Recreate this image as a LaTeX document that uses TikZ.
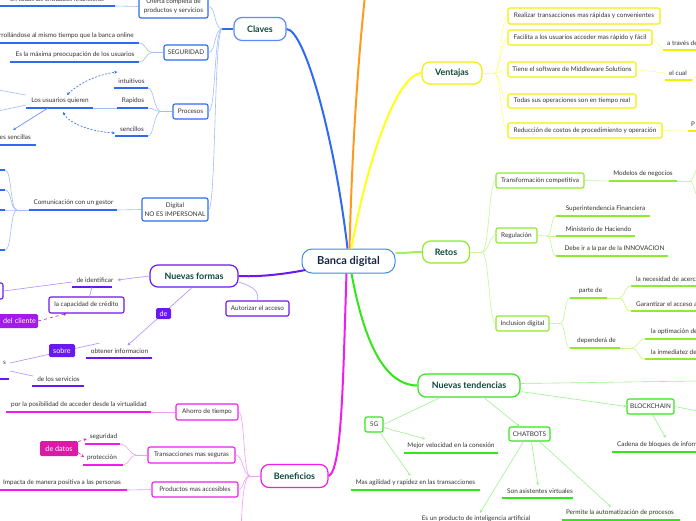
\documentclass[tikz,border=0pt]{standalone}
\usepackage{fontspec}
\setmainfont{Lato}
\usetikzlibrary{arrows.meta,calc}
\definecolor{txtc}{HTML}{333333}
\definecolor{tgreen}{HTML}{0D4A3A}
\definecolor{navy}{HTML}{16264A}
\definecolor{centralc}{HTML}{3F8CD8}
\definecolor{bluem}{HTML}{2F6BF2}
\definecolor{claveb}{HTML}{5B8CF7}
\definecolor{blueb}{HTML}{2F6BF2}
\definecolor{bluelt}{HTML}{A3BDF9}
\definecolor{orangec}{HTML}{FF9A1F}
\definecolor{yelm}{HTML}{FFFF1A}
\definecolor{yelb}{HTML}{F2EF00}
\definecolor{yellt}{HTML}{FFFF8C}
\definecolor{retg}{HTML}{8EEB2E}
\definecolor{retlt}{HTML}{C6F59B}
\definecolor{ntg}{HTML}{33E619}
\definecolor{ntlt}{HTML}{9EF28F}
\definecolor{purp}{HTML}{6A18F0}
\definecolor{purlt}{HTML}{B38FF8}
\definecolor{purp2}{HTML}{A11CEB}
\definecolor{mag}{HTML}{EE1EEE}
\definecolor{maglt}{HTML}{F59CF5}
\definecolor{magd}{HTML}{DD1AA5}
\tikzset{
  every node/.style={font=\fontsize{6.4}{9}\selectfont, text=txtc},
  txt/.style={inner sep=0pt},
  topic/.style={draw, line width=1.2pt, rounded corners=8pt, fill=white, font=\fontsize{8.9}{10}\selectfont\bfseries, text=tgreen, inner sep=0pt},
  sbox/.style={draw, line width=1.1pt, rounded corners=2pt, fill=white, inner sep=0pt, align=center},
  lbl/.style={fill, rounded corners=1.5pt, text=white, font=\fontsize{7.2}{8}\selectfont, inner sep=0pt},
  ul/.style={line width=1.8pt},
  conn/.style={line width=0.6pt},
  trunk/.style={line width=2pt},
  arr/.style={-{Stealth[length=3pt,width=3pt]}},
}
\newcommand\ulnode[8]{%
  \coordinate (#1-w) at (#3,#5);
  \coordinate (#1-e) at (#4,#5);
  \draw[ul,#2] (#1-w) -- (#1-e);
  \node[txt,#6] (#1) at (#7,#5-7) {#8};
}
\begin{document}
\begin{tikzpicture}[x=1pt,y=-1pt]
\fill[white] (0,0) rectangle (696,520);
\useasboundingbox (0,0) rectangle (696,520);

% ---------- central and topics ----------
\node[draw=centralc, line width=1pt, rounded corners=10pt, fill=white, minimum width=93pt, minimum height=24pt, font=\fontsize{11}{12}\selectfont\bfseries, text=navy, inner sep=0pt] (c) at (348.5,261) {Banca digital};
\node[topic, draw=claveb, minimum width=52pt, minimum height=23pt] (claves) at (260,29) {Claves};
\node[topic, draw=yelb, minimum width=60pt, minimum height=22pt] (vent) at (452,73) {Ventajas};
\node[topic, draw=retg, minimum width=47pt, minimum height=22pt] (retos) at (446,252) {Retos};
\node[topic, draw=purp, minimum width=88pt, minimum height=22pt] (nf) at (194,276) {Nuevas formas};
\node[topic, draw=mag, minimum width=67pt, minimum height=23pt] (ben) at (294.5,476) {Beneficios};
\node[topic, draw=ntg, minimum width=102pt, minimum height=23pt] (nt) at (469,385.5) {Nuevas tendencias};

\coordinate (oe) at (365,-4);
\draw[trunk,orangec] ([xshift=1pt]c.north) .. controls (352,150) and (358,60) .. (oe);
\draw[trunk,bluem] ([xshift=-1pt]c.north) .. controls (335,140) and (305,30) .. (claves.east);
\draw[trunk,yelm] ([xshift=3pt]c.north) .. controls (365,170) and (395,75) .. (vent.west);
\draw[trunk,retg!80!white] ([yshift=8pt]c.east) .. controls (410,253) and (410,252) .. (retos.west);
\draw[trunk,purp] ([xshift=4pt,yshift=-9pt]c.west) .. controls (280,275) and (255,277) .. (nf.east);
\draw[trunk,mag] ([xshift=-2pt]c.south) .. controls (343,380) and (342,470) .. (ben.east);
\draw[trunk,ntg] ([xshift=3pt]c.south) .. controls (362,330) and (380,385) .. (nt.west);

% ---------- Claves ----------
\node[sbox, draw=blueb, minimum width=69pt, minimum height=23pt] (oferta) at (173.5,6.5) {Oferta completa de\\productos y servicios};
\node[sbox, draw=blueb, minimum width=44pt, minimum height=15pt] (seg) at (186,52.5) {SEGURIDAD};
\node[sbox, draw=blueb, minimum width=35pt, minimum height=15pt] (proc) at (190.5,111.5) {Procesos};
\node[sbox, draw=blueb, minimum width=66pt, minimum height=23pt] (digi) at (175,209.5) {Digital\\NO ES IMPERSONAL};
\coordinate (cj) at (222,29);
\draw[line width=1.4pt,blueb] (claves.west) -- (cj);
\draw[conn,bluelt] (cj) .. controls (214,29) and (216,6.5) .. (oferta.east);
\draw[conn,bluelt] (cj) .. controls (214,29) and (216,52.5) .. (seg.east);
\draw[conn,bluelt] (cj) .. controls (214,29) and (216,111.5) .. (proc.east);
\draw[conn,bluelt] (cj) .. controls (214,29) and (216,209.5) .. (digi.east);

\ulnode{ofc}{blueb}{-5}{115}{6}{}{57}{en todas las entidades financieras}
\draw[conn,bluelt] (oferta.west) -- (ofc-e);

\ulnode{s1}{blueb}{-5}{139}{43}{anchor=east}{134}{Desarrollándose al mismo tiempo que la banca online}
\ulnode{s2}{blueb}{10}{139}{62}{}{75}{Es la máxima preocupación de los usuarios}
\coordinate (sj) at (152,52.5);
\draw[conn,bluelt] (seg.west) -- (sj);
\draw[conn,bluelt] (sj) .. controls (146,52.5) and (146,43) .. (s1-e);
\draw[conn,bluelt] (sj) .. controls (146,52.5) and (146,62) .. (s2-e);

\ulnode{p1}{blueb}{114}{148}{88}{}{131.5}{intuitivos}
\ulnode{p2}{blueb}{117}{148}{108}{}{133}{Rapidos}
\ulnode{p3}{blueb}{115}{148}{136}{}{132}{sencillos}
\coordinate (pj) at (161,111.5);
\draw[conn,bluelt] (proc.west) -- (pj);
\draw[conn,bluelt] (pj) .. controls (154,111.5) and (154,88) .. (p1-e);
\draw[conn,bluelt] (pj) .. controls (154,111.5) and (154,108) .. (p2-e);
\draw[conn,bluelt] (pj) .. controls (154,111.5) and (154,136) .. (p3-e);

\ulnode{luq}{blueb}{26}{93}{108}{}{60}{Los usuarios quieren}
\draw[conn,bluelt] (p2-w) -- (luq-e);
\coordinate (lq1) at (-2,90);
\coordinate (lq2) at (-2,111);
\draw[conn,bluelt] ([xshift=-5pt,yshift=6pt]luq.west) -- (lq1);
\draw[conn,bluelt] ([xshift=-5pt,yshift=-4pt]luq.west) -- (lq2);
\ulnode{ls}{blueb}{-5}{36}{145}{anchor=east}{31}{Operaciones sencillas}
\coordinate (lsarr) at (13,130);
\draw[conn,bluem!80!white,arr] ([xshift=22pt]luq-w) -- (lsarr);
\draw[conn,bluem,dashed,dash pattern=on 2pt off 1.5pt,{Stealth[length=3pt,width=3pt]}-{Stealth[length=3pt,width=3pt]}]
  ([xshift=7pt,yshift=3pt]luq.north) .. controls (80,82) and (100,74) .. ([xshift=-1pt,yshift=9pt]p1.west);
\draw[conn,bluem,dashed,dash pattern=on 2pt off 1.5pt,{Stealth[length=3pt,width=3pt]}-{Stealth[length=3pt,width=3pt]}]
  ([xshift=3pt,yshift=-8pt]luq.south) .. controls (70,125) and (95,132) .. ([xshift=-5pt,yshift=-4pt]p3.west);

\ulnode{com}{blueb}{29}{117}{210}{}{73.5}{Comunicación con un gestor}
\draw[conn,bluelt] (digi.west) -- (com-e);
\coordinate (comj) at (17,210);
\draw[conn,bluelt] (com-w) -- (comj);
\foreach \yy/\nm in {170/d1,190/d2,210/d3,250/d4}{
  \coordinate (\nm) at (5,\yy);
  \draw[ul,blueb] (-5,\yy) -- (\nm);
  \draw[conn,bluelt] (comj) .. controls (10,210) and (12,\yy) .. (\nm);
}

% ---------- Ventajas ----------
\node[sbox, draw=yelb, minimum width=152pt, minimum height=16pt] (v1) at (584,16) {Realizar transacciones mas rápidas y convenientes};
\node[sbox, draw=yelb, minimum width=144pt, minimum height=15pt] (v2) at (580,37.5) {Facilita a los usuarios acceder mas rápido y fácil};
\node[sbox, draw=yelb, minimum width=128pt, minimum height=15pt] (v3) at (572,69.5) {Tiene el software de Middleware Solutions};
\node[sbox, draw=yelb, minimum width=128pt, minimum height=14pt] (v4) at (572,101) {Todas sus operaciones son en tiempo real};
\node[sbox, draw=yelb, minimum width=154pt, minimum height=15pt] (v5) at (585,130.5) {Reducción de costos de procedimiento y operación};
\coordinate (vj) at (494,73);
\draw[conn,yellt] (vent.east) -- (vj);
\foreach \n in {v1,v2,v3,v4,v5}{
  \draw[conn,yellt] (vj) .. controls (501,73) and (501,0|-\n.west) .. (\n.west);
}
\ulnode{atr}{yelb}{663}{700}{50}{anchor=west}{667}{a través de}
\draw[conn,yellt] (v2.east) -- (atr-w);
\ulnode{ec}{yelb}{665}{692}{80}{}{678}{el cual}
\draw[conn,yellt] (v3.east) -- ([xshift=-4pt]ec.west);
\coordinate (ecr) at (698,74);
\draw[conn,yellt] (ec-e) .. controls (695,80) and (695,75) .. (ecr);
\ulnode{pp}{yelb}{688}{700}{131}{anchor=west}{691}{P}
\draw[conn,yellt] (v5.east) -- (pp-w);

% ---------- Retos ----------
\node[sbox, draw=retg, minimum width=88pt, minimum height=15pt] (r1) at (540,180.5) {Transformación competitiva};
\node[sbox, draw=retg, minimum width=41pt, minimum height=15pt] (r2) at (516.5,235.5) {Regulación};
\node[sbox, draw=retg, minimum width=53pt, minimum height=15pt] (r3) at (522.5,323.5) {Inclusion digital};
\coordinate (rj) at (482,252);
\draw[conn,retlt] (retos.east) -- (rj);
\foreach \n in {r1,r2,r3}{
  \draw[conn,retlt] (rj) .. controls (489,252) and (489,0|-\n.west) .. (\n.west);
}
\ulnode{mod}{retg}{609}{677}{181}{}{643}{Modelos de negocios}
\draw[conn,retlt] (r1.east) -- (mod-w);
\coordinate (modj) at (690,181);
\coordinate (m1) at (698,168);
\coordinate (m2) at (698,196);
\draw[conn,retlt] (mod-e) -- (modj);
\draw[conn,retlt] (modj) .. controls (694,181) and (694,170) .. (m1);
\draw[conn,retlt] (modj) .. controls (694,181) and (694,194) .. (m2);

\ulnode{sf}{retg}{556}{650}{216}{}{605.5}{Superintendencia Financiera}
\ulnode{mh}{retg}{556}{635}{236}{}{598.5}{Ministerio de Haciendo}
\ulnode{inn}{retg}{556}{668}{256}{}{614.5}{Debe ir a la par de la INNOVACION}
\coordinate (r2j) at (547,236);
\draw[conn,retlt] (r2.east) -- (r2j);
\draw[conn,retlt] (r2j) .. controls (552,236) and (551,216) .. (sf-w);
\draw[conn,retlt] (r2j) -- (mh-w);
\draw[conn,retlt] (r2j) .. controls (552,236) and (551,256) .. (inn-w);

\ulnode{pd}{retg}{570}{607}{298}{}{590.5}{parte de}
\ulnode{dd}{retg}{570}{620}{348}{}{596.5}{dependerá de}
\coordinate (r3j) at (560,323.5);
\draw[conn,retlt] (r3.east) -- (r3j);
\draw[conn,retlt] (r3j) .. controls (566,323.5) and (564,298) .. (pd-w);
\draw[conn,retlt] (r3j) .. controls (566,323.5) and (564,348) .. (dd-w);
\ulnode{nec}{retg}{631}{700}{286}{anchor=west}{636}{la necesidad de acercar}
\ulnode{gar}{retg}{631}{700}{311}{anchor=west}{636}{Garantizar el acceso a}
\coordinate (pdj) at (619,298);
\draw[conn,retlt] (pd-e) -- (pdj);
\draw[conn,retlt] (pdj) .. controls (625,298) and (624,286) .. (nec-w);
\draw[conn,retlt] (pdj) .. controls (625,298) and (624,311) .. (gar-w);
\ulnode{opt}{retg}{645}{700}{339}{anchor=west}{651}{la optimación de}
\ulnode{inm}{retg}{645}{700}{359}{anchor=west}{651}{la inmediatez de}
\coordinate (ddj) at (632,348);
\draw[conn,retlt] (dd-e) -- (ddj);
\draw[conn,retlt] (ddj) .. controls (638,348) and (638,339) .. (opt-w);
\draw[conn,retlt] (ddj) .. controls (638,348) and (638,359) .. (inm-w);

% ---------- Nuevas tendencias ----------
\coordinate (ntr) at (698,381);
\draw[conn,ntlt] ([yshift=2pt]nt.east) -- (ntr);
\node[sbox, draw=ntg, minimum width=47pt, minimum height=15pt] (bc) at (650.5,406.5) {BLOCKCHAIN};
\draw[conn,ntlt,arr] ([yshift=-6pt]nt.east) -- (bc.west);
\coordinate (bcr) at (698,411);
\draw[conn,ntlt] (bc.east) -- (bcr);
\ulnode{cad}{ntg}{612}{700}{452}{anchor=west}{617}{Cadena de bloques de información}
\draw[conn,ntlt,arr] ([xshift=2pt]bc.south) -- ([yshift=4pt]cad.north);

\node[sbox, draw=ntg, minimum width=18pt, minimum height=15pt] (g5) at (374,424.5) {5G};
\draw[conn,ntlt] ([xshift=-29pt]nt.south) -- (g5.east);
\ulnode{mv}{ntg}{404}{498}{453}{}{451}{Mejor velocidad en la conexión}
\draw[conn,ntlt,arr] ([yshift=-3pt]g5.east) -- ([xshift=-26pt,yshift=4pt]mv.north);
\ulnode{ma}{ntg}{351}{480}{490}{}{415.5}{Mas agilidad y rapidez en las transacciones}
\draw[conn,ntlt,arr] ([xshift=6pt]g5.south) -- ([xshift=-5pt,yshift=4pt]ma.north);

\node[sbox, draw=ntg, minimum width=41pt, minimum height=14pt] (cb) at (529.5,434) {CHATBOTS};
\draw[conn,ntlt,arr] ([xshift=15pt]nt.south) -- ([xshift=-10pt]cb.north);
\ulnode{sa}{ntg}{502}{573}{498}{}{540}{Son asistentes virtuales}
\draw[conn,ntlt,arr] ([xshift=2pt]cb.south) -- ([xshift=-2pt,yshift=3pt]sa.north);
\ulnode{pa}{ntg}{562}{680}{520}{}{620}{Permite la automatización de procesos}
\draw[conn,ntlt,arr] ([xshift=10pt]cb.south) -- ([xshift=-9pt,yshift=3pt]pa.north);
\ulnode{ep}{ntg}{420}{535}{526}{}{476}{Es un producto de inteligencia artificial}
\draw[conn,ntlt,arr] ([xshift=-6pt]cb.south) -- ([xshift=4pt,yshift=3pt]ep.north);

% ---------- Nuevas formas ----------
\node[sbox, draw=purp, minimum width=63pt, minimum height=15pt] (aut) at (257.5,308.5) {Autorizar el acceso};
\draw[conn,purlt] ([yshift=-6pt]nf.east) .. controls (255,287) and (259,292) .. (aut.north);
\ulnode{di}{purp}{72}{112}{287}{}{95}{de identificar}
\draw[conn,purlt,arr] (nf.west) -- ([xshift=4pt]di.east);
\node[sbox, draw=purp, minimum width=20pt, minimum height=16pt] (lb) at (-7,291) {};
\draw[conn,purlt] ([yshift=5pt]di-w) -- (lb.east);
\node[sbox, draw=purp, minimum width=75pt, minimum height=16pt] (cap) at (86.5,305) {la capacidad de crédito};
\draw[conn,purlt] ([xshift=20pt]di-w) -- ([xshift=3pt]cap.north);
\node[lbl, fill=purp2, text width=42pt, inner xsep=2pt, align=right, minimum height=14pt] (cli) at (15,321) {del cliente};
\draw[conn,purp2,dashed,arr] (cli.east) -- ([xshift=-20pt]cap.south);

\ulnode{oi}{purp}{86}{152}{358}{}{119.5}{obtener informacion}
\draw[conn,purlt,arr] ([xshift=-2pt]nf.south) -- ([xshift=8pt,yshift=3pt]oi.north);
\node[lbl, fill=purp, minimum width=15pt, minimum height=11pt] (de) at (163.5,313.5) {de};
\node[txt, anchor=east] (sx) at (6,363) {s};
\draw[conn,purlt] ([xshift=9pt,yshift=8pt]oi.west) -- ([xshift=4pt]sx.east);
\node[lbl, fill=purp, minimum width=26pt, minimum height=13pt] (sob) at (62,350.5) {sobre};
\coordinate (sxu) at (9,379);
\draw[ul,purp] (-5,379) -- (sxu);
\ulnode{ds}{purp}{32}{84}{386}{}{58.5}{de los servicios}
\draw[conn,purlt] ([xshift=4pt,yshift=-8pt]sx.east) -- ([xshift=-4pt,yshift=3pt]ds.west);

% ---------- Beneficios ----------
\node[sbox, draw=mag, minimum width=62pt, minimum height=16pt] (b1) at (207,412) {Ahorro de tiempo};
\node[sbox, draw=mag, minimum width=87pt, minimum height=16pt] (b2) at (191.5,455) {Transacciones mas seguras};
\node[sbox, draw=mag, minimum width=86pt, minimum height=15pt] (b3) at (195,489.5) {Productos mas accesibles};
\coordinate (bj) at (250,476);
\coordinate (boff) at (241,530);
\draw[conn,maglt] (ben.west) -- (bj);
\draw[conn,maglt] (bj) .. controls (243,476) and (245,412) .. (b1.east);
\draw[conn,maglt] (bj) .. controls (243,476) and (243,455) .. (b2.east);
\draw[conn,maglt] (bj) .. controls (243,476) and (244,489.5) .. (b3.east);
\draw[conn,maglt] (bj) .. controls (243,476) and (242,510) .. (boff);

\ulnode{pv}{mag}{6}{151}{412}{}{79}{por la posibilidad de acceder desde la virtualidad}
\draw[conn,maglt] (b1.west) -- (pv-e);
\ulnode{sg}{mag}{85}{120}{444}{}{103.5}{seguridad}
\ulnode{pr}{mag}{83}{123}{465}{}{102}{protección}
\coordinate (b2j) at (136,455);
\draw[conn,maglt] (b2.west) -- (b2j);
\draw[conn,maglt] (b2j) .. controls (130,455) and (128,444) .. (sg-e);
\draw[conn,maglt] (b2j) .. controls (130,455) and (129,465) .. (pr-e);
\node[lbl, fill=magd, minimum width=38pt, minimum height=15pt] (dat) at (59,448.5) {de datos};
\draw[conn,magd,dashed,arr] ([yshift=7pt]dat.east) -- ([xshift=-3pt,yshift=-2pt]sg.west);
\draw[conn,magd,dashed,arr] ([yshift=-4pt]dat.east) -- ([xshift=-3pt,yshift=1pt]pr.west);
\ulnode{ip}{mag}{-5}{127}{490}{}{62}{Impacta de manera positiva a las personas}
\draw[conn,maglt] (b3.west) -- (ip-e);
\end{tikzpicture}
\end{document}
